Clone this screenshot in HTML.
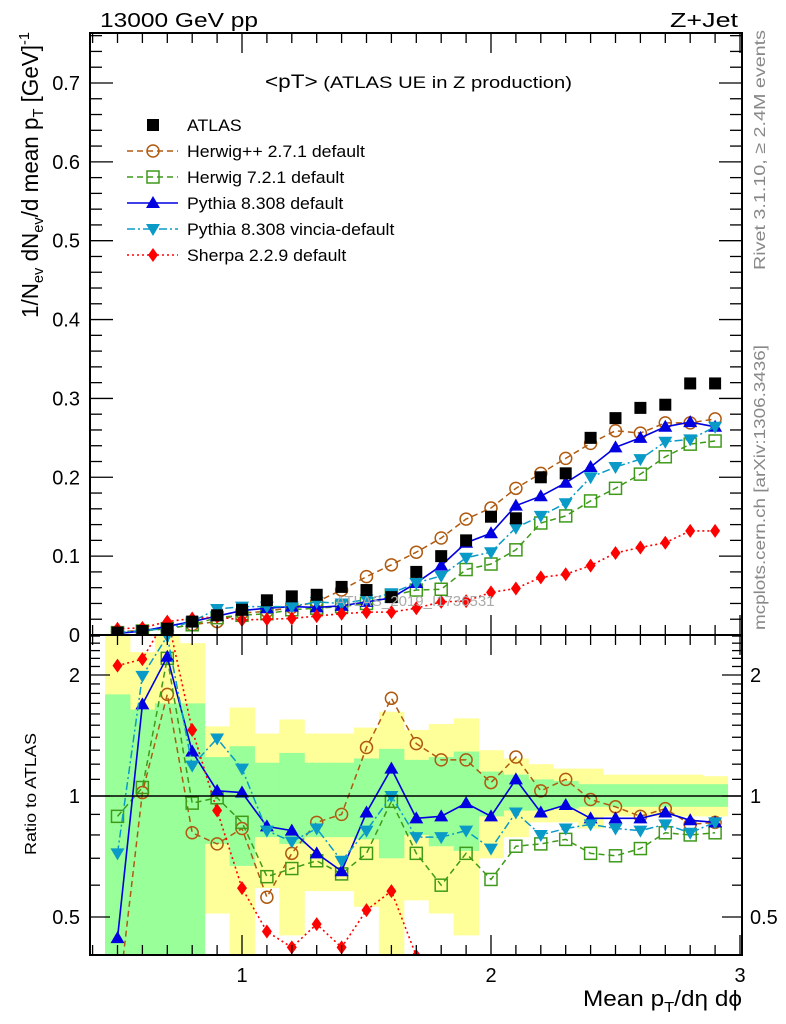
<!DOCTYPE html>
<html><head><meta charset="utf-8"><style>
html,body{margin:0;padding:0;background:#fff;}
svg{display:block;font-family:"Liberation Sans",sans-serif;}
</style></head><body>
<svg id="chart" width="786" height="1024" viewBox="0 0 786 1024" xmlns="http://www.w3.org/2000/svg">
<g id="bands"></g>
<g id="marks"></g>
<g id="axes"></g>
<text x="100" y="27" font-size="20" textLength="158" lengthAdjust="spacingAndGlyphs">13000 GeV pp</text>
<text x="670" y="27" font-size="20" textLength="68" lengthAdjust="spacingAndGlyphs">Z+Jet</text>
<text x="265" y="88" font-size="17" textLength="307" lengthAdjust="spacingAndGlyphs"><tspan font-size="19">&lt;pT&gt;</tspan> (ATLAS UE in Z production)</text>
<text x="415" y="606" font-size="15" fill="#aaa" text-anchor="middle">ATLAS_2019_I1736531</text>
<text transform="translate(765,270) rotate(-90)" font-size="16" fill="#888" textLength="240" lengthAdjust="spacingAndGlyphs">Rivet 3.1.10, ≥ 2.4M events</text>
<text transform="translate(765,630) rotate(-90)" font-size="16" fill="#888" textLength="285" lengthAdjust="spacingAndGlyphs">mcplots.cern.ch [arXiv:1306.3436]</text>
<text transform="translate(38,318) rotate(-90)" font-size="23" textLength="286" lengthAdjust="spacingAndGlyphs">1/N<tspan font-size="15" dy="5">ev</tspan><tspan dy="-5"> dN</tspan><tspan font-size="15" dy="5">ev</tspan><tspan dy="-5">/d mean p</tspan><tspan font-size="15" dy="5">T</tspan><tspan dy="-5"> [GeV]</tspan><tspan font-size="15" dy="-9">-1</tspan></text>
<text transform="translate(36,855) rotate(-90)" font-size="16" textLength="122" lengthAdjust="spacingAndGlyphs">Ratio to ATLAS</text>
<text x="583" y="1006" font-size="22" textLength="159" lengthAdjust="spacingAndGlyphs">Mean p<tspan font-size="15" dy="6">T</tspan><tspan dy="-6">/dη dϕ</tspan></text>
<g id="legend"></g>
</svg>
<script>
const xs=[0.5,0.6,0.7,0.8,0.9,1.0,1.1,1.2,1.3,1.4,1.5,1.6,1.7,1.8,1.9,2.0,2.1,2.2,2.3,2.4,2.5,2.6,2.7,2.8,2.9];
const atlas=[0.003,0.005,0.008,0.017,0.025,0.032,0.044,0.049,0.051,0.061,0.057,0.048,0.080,0.100,0.120,0.150,0.148,0.200,0.205,0.250,0.275,0.288,0.292,0.319,0.319];
const herwigpp=[0.004,0.006,0.008,0.013,0.017,0.028,0.030,0.035,0.042,0.057,0.074,0.089,0.105,0.123,0.147,0.161,0.186,0.205,0.224,0.243,0.259,0.256,0.269,0.269,0.274];
const herwig7=[0.003,0.005,0.008,0.013,0.022,0.025,0.027,0.032,0.034,0.036,0.040,0.050,0.057,0.058,0.083,0.090,0.108,0.142,0.151,0.170,0.186,0.204,0.226,0.242,0.246];
const pythia=[0.002,0.005,0.011,0.017,0.024,0.031,0.034,0.036,0.035,0.037,0.042,0.047,0.066,0.088,0.117,0.129,0.164,0.176,0.193,0.213,0.238,0.250,0.264,0.270,0.264];
const vincia=[0.003,0.006,0.008,0.017,0.033,0.036,0.036,0.036,0.042,0.040,0.045,0.053,0.066,0.075,0.098,0.105,0.136,0.151,0.167,0.200,0.213,0.223,0.245,0.248,0.264];
const sherpa=[0.008,0.009,0.017,0.021,0.023,0.019,0.020,0.021,0.024,0.027,0.029,0.029,0.034,0.042,0.043,0.054,0.059,0.073,0.077,0.088,0.104,0.111,0.117,0.132,0.132];
const rHerwigpp=[0.3,1.02,1.79,0.81,0.76,0.83,0.56,0.72,0.86,0.90,1.32,1.75,1.35,1.23,1.23,1.08,1.25,1.03,1.10,0.98,0.94,0.89,0.93,0.85,0.86];
const rHerwig7=[0.89,1.05,2.2,0.96,0.99,0.86,0.63,0.66,0.69,0.64,0.72,0.97,0.72,0.60,0.72,0.62,0.75,0.76,0.78,0.72,0.71,0.74,0.81,0.80,0.81];
const rPythia=[0.443,1.69,2.22,1.29,1.03,1.02,0.84,0.82,0.72,0.65,0.91,1.17,0.88,0.89,0.96,0.89,1.10,0.91,0.95,0.88,0.88,0.88,0.91,0.87,0.86];
const rVincia=[0.72,1.99,2.5,1.19,1.39,1.17,0.82,0.77,0.83,0.69,0.82,1.00,0.79,0.79,0.82,0.74,0.91,0.80,0.83,0.85,0.83,0.82,0.85,0.81,0.86];
const rSherpa=[2.11,2.19,2.8,1.46,0.92,0.59,0.46,0.42,0.48,0.42,0.52,0.58,0.40,0.385,null,null,null,null,null,null,null,null,0.35,0.37,0.36];
const yellowHi=[2.8,2.28,2.8,2.4,1.49,1.66,1.43,1.55,1.43,1.43,1.48,1.62,1.46,1.51,1.56,1.30,1.24,1.20,1.17,1.17,1.13,1.13,1.13,1.13,1.12];
const yellowLo=[0.3,0.3,0.3,0.3,0.51,0.3,0.59,0.45,0.58,0.58,0.53,0.3,0.55,0.51,0.45,0.70,0.79,0.86,0.86,0.83,0.89,0.89,0.89,0.89,0.89];
const greenHi=[1.79,1.64,1.70,1.70,1.25,1.33,1.21,1.28,1.21,1.21,1.24,1.31,1.23,1.25,1.29,1.15,1.13,1.10,1.09,1.07,1.07,1.07,1.07,1.07,1.07];
const greenLo=[0.3,0.3,0.3,0.3,0.76,0.67,0.79,0.76,0.79,0.79,0.78,0.70,0.80,0.75,0.73,0.89,0.92,0.92,0.93,0.94,0.94,0.94,0.94,0.94,0.94];
const mainTicks=[0,0.1,0.2,0.3,0.4,0.5,0.6,0.7];
const mainTickLabels=["0","0.1","0.2","0.3","0.4","0.5","0.6","0.7"];
const ratioTicks=[0.5,1,2];
const ratioTickLabels=["0.5","1","2"];
const xTicks=[1,2,3];
const xTickLabels=["1","2","3"];
const binW=0.1;

const L=90,R=742,T=33,MB=635,RB=955;
const X=v=>242+(v-1)*249;
const Y=v=>MB-v*788.6;
const YR=r=>796-121*Math.log2(r);
const NS="http://www.w3.org/2000/svg";
function mk(tag,attrs,parent){const e=document.createElementNS(NS,tag);for(const k in attrs)e.setAttribute(k,attrs[k]);parent.appendChild(e);return e;}
const bands=document.getElementById('bands'),marks=document.getElementById('marks'),axes=document.getElementById('axes'),legend=document.getElementById('legend');
const yrClamp=y=>Math.min(RB,Math.max(MB,y));

xs.forEach((x,i)=>{
  const y1=yrClamp(YR(yellowHi[i])),y2=yrClamp(YR(yellowLo[i]));
  const b=mk('rect',{x:X(x-binW/2),y:y1,width:X(x+binW/2)-X(x-binW/2)+0.5,height:y2-y1,fill:'#ffff99'},bands);
  
  
});
xs.forEach((x,i)=>{
  const y1=yrClamp(YR(greenHi[i])),y2=yrClamp(YR(greenLo[i]));
  const b=mk('rect',{x:X(x-binW/2),y:y1,width:X(x+binW/2)-X(x-binW/2)+0.5,height:y2-y1,fill:'#99ff99'},bands);
  
  
});

const defs=mk('defs',{},document.getElementById('chart'));
const c1=mk('clipPath',{id:'cm'},defs);mk('rect',{x:L,y:T,width:R-L,height:MB-T},c1);
const c2=mk('clipPath',{id:'cr'},defs);mk('rect',{x:L,y:MB,width:R-L,height:RB-MB},c2);
const gm=mk('g',{'clip-path':'url(#cm)'},marks),gr=mk('g',{'clip-path':'url(#cr)'},marks);

function marker(g,type,cx,cy,col){
  let e;
  if(type==='sq') e=mk('rect',{x:cx-6,y:cy-6,width:12,height:12,fill:'#000'},g);
  else if(type==='circ') e=mk('circle',{cx:cx,cy:cy,r:6,fill:'none',stroke:col,'stroke-width':1.5},g);
  else if(type==='osq') e=mk('rect',{x:cx-6,y:cy-6,width:12,height:12,fill:'none',stroke:col,'stroke-width':1.5},g);
  else if(type==='up') e=mk('polygon',{points:`${cx-7},${cy+5} ${cx+7},${cy+5} ${cx},${cy-7}`,fill:col},g);
  else if(type==='dn') e=mk('polygon',{points:`${cx-7},${cy-5} ${cx+7},${cy-5} ${cx},${cy+7}`,fill:col},g);
  else if(type==='dia') e=mk('polygon',{points:`${cx},${cy-7} ${cx+5},${cy} ${cx},${cy+7} ${cx-5},${cy}`,fill:col},g);
  return e;
}
const series=[
 {name:'herwigpp',v:herwigpp,r:rHerwigpp,col:'#b05a10',m:'circ',dash:'6,4',w:1.5,label:'Herwig++ 2.7.1 default'},
 {name:'herwig7',v:herwig7,r:rHerwig7,col:'#3f9a1a',m:'osq',dash:'6,4',w:1.5,label:'Herwig 7.2.1 default'},
 {name:'pythia',v:pythia,r:rPythia,col:'#0000e0',m:'up',dash:'',w:1.6,label:'Pythia 8.308 default'},
 {name:'vincia',v:vincia,r:rVincia,col:'#0a9ac8',m:'dn',dash:'8,3,2,3',w:1.5,label:'Pythia 8.308 vincia-default'},
 {name:'sherpa',v:sherpa,r:rSherpa,col:'#ff0000',m:'dia',dash:'2,3',w:1.6,label:'Sherpa 2.2.9 default'}
];
function drawLine(g,vals,f,s,nm){
  let segs=[],cur=[];
  vals.forEach((v,i)=>{if(v===null){if(cur.length)segs.push(cur);cur=[];}else cur.push(X(xs[i])+','+f(v));});
  if(cur.length)segs.push(cur);
  segs.forEach(sg=>{const p=mk('polyline',{points:sg.join(' '),fill:'none',stroke:s.col,'stroke-width':s.w,'stroke-dasharray':s.dash},g);
    
    });
}
series.forEach(s=>{
  drawLine(gm,s.v,Y,s,s.name+'-line');
  s.v.forEach((v,i)=>{const e=marker(gm,s.m,X(xs[i]),Y(v),s.col);
    
    });
  drawLine(gr,s.r,YR,s,s.name+'-ratio-line');
  s.r.forEach((v,i)=>{if(v===null)return;const e=marker(gr,s.m,X(xs[i]),YR(v),s.col);
    
    });
});
atlas.forEach((v,i)=>{const e=marker(gm,'sq',X(xs[i]),Y(v),'#000');
  
  });
mk('line',{x1:L,x2:R,y1:YR(1),y2:YR(1),stroke:'#000','stroke-width':1.5},marks);

mk('rect',{x:L,y:T,width:R-L,height:MB-T,fill:'none',stroke:'#000','stroke-width':2},axes);
mk('rect',{x:L,y:MB,width:R-L,height:RB-MB,fill:'none',stroke:'#000','stroke-width':2},axes);
const ln=(x1,y1,x2,y2,w)=>mk('line',{x1,y1,x2,y2,stroke:'#000','stroke-width':w||1.3},axes);
for(let k=0;k<=38;k++){const v=k*0.02,y=Y(v);if(y<T)break;const maj=k%5===0;const len=maj?23:12;ln(L,y,L+len,y);ln(R,y,R-len,y);}
mainTicks.forEach((v,i)=>{const t=mk('text',{x:80,y:Y(v)+7,'font-size':20,'text-anchor':'end'},axes);t.textContent=mainTickLabels[i];
  
  });
for(let k=4;k<=30;k++){const v=k/10,x=X(v);if(x<L||x>R)continue;const maj=k%10===0;const len=maj?20:10;
  ln(x,T,x,T+len);ln(x,MB,x,MB-len);ln(x,MB,x,MB+len);ln(x,RB,x,RB-len);}
xTicks.forEach((v,i)=>{const t=mk('text',{x:X(v),y:982,'font-size':20,'text-anchor':'middle'},axes);t.textContent=xTickLabels[i];
  
  });
const rminor=[0.5,0.6,0.7,0.8,0.9,1,1.1,1.2,1.3,1.4,1.5,1.6,1.7,1.8,1.9,2,2.1,2.2,2.3,2.4,2.5];
rminor.forEach(r=>{const y=YR(r);const maj=(r===0.5||r===1||r===2);const len=maj?20:10;ln(L,y,L+len,y);ln(R,y,R-len,y);});
ratioTicks.forEach((v,i)=>{
  const t=mk('text',{x:80,y:YR(v)+7,'font-size':20,'text-anchor':'end'},axes);t.textContent=ratioTickLabels[i];
  
  
  const t2=mk('text',{x:750,y:YR(v)+7,'font-size':20,'text-anchor':'start'},axes);t2.textContent=ratioTickLabels[i];
  
  
});

const rows=[{m:'sq',col:'#000',dash:null,label:'ATLAS'}].concat(series);
rows.forEach((s,i)=>{
  const y=125+i*26;
  const g=mk('g',{},legend);
  
  
  if(s.dash!==null) mk('line',{x1:127,x2:178,y1:y,y2:y,stroke:s.col,'stroke-width':s.w,'stroke-dasharray':s.dash},g);
  marker(g,s.m,153,y,s.col);
  const t=mk('text',{x:187,y:y+6,'font-size':17},g);t.textContent=s.label;
  const w=t.getComputedTextLength();
  t.setAttribute('textLength',w*1.04);
  t.setAttribute('lengthAdjust','spacingAndGlyphs');
});
</script>
</body></html>
